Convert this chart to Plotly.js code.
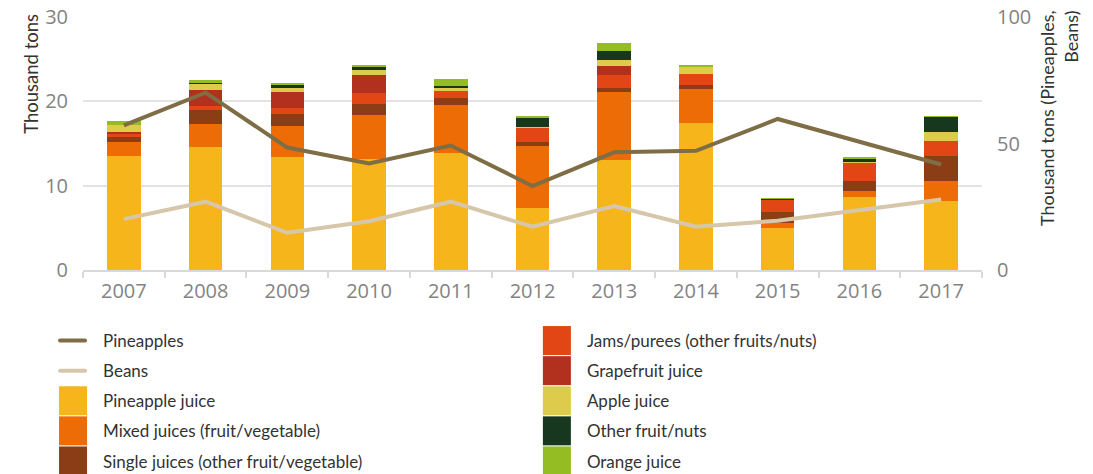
<!DOCTYPE html>
<html>
<head>
<meta charset="utf-8">
<script src="https://cdn.plot.ly/plotly-3.0.1.min.js"></script>
<style>html,body{margin:0;padding:0;background:#fff;}#chart{width:1093px;height:474px;}</style>
</head>
<body>
<div id="chart"></div>
<script>
var years = ['2007','2008','2009','2010','2011','2012','2013','2014','2015','2016','2017'];

var pineappleJuice = [13.55, 14.62, 13.44, 13.16, 13.87, 7.39, 13.04, 17.43, 4.98, 8.66, 8.18];
var mixedJuices    = [1.67, 2.69, 3.64, 5.22, 5.70, 7.35, 8.06, 4.03, 0.56, 0.71, 2.37];
var singleJuices   = [0.60, 1.66, 1.42, 1.30, 0.83, 0.47, 0.48, 0.48, 1.34, 1.18, 2.97];
var jamsPurees     = [0.25, 0.47, 0.71, 1.31, 0.83, 1.66, 1.54, 1.30, 1.42, 2.10, 1.78];
var grapefruitJuice= [0.30, 1.90, 1.90, 2.13, 0.05, 0.00, 1.07, 0.00, 0.03, 0.05, 0.00];
var appleJuice     = [0.83, 0.75, 0.48, 0.60, 0.35, 0.12, 0.71, 0.83, 0.00, 0.12, 1.06];
var otherFruitNuts = [0.00, 0.12, 0.36, 0.35, 0.24, 1.06, 1.07, 0.00, 0.12, 0.39, 1.78];
var orangeJuice    = [0.47, 0.33, 0.23, 0.24, 0.83, 0.24, 0.95, 0.24, 0.12, 0.24, 0.12];

var pineapples = [57.2, 70.1, 48.4, 42.1, 49.2, 33.2, 46.5, 47.1, 59.7, 50.8, 41.7];
var beans      = [20.1, 27.0, 14.7, 19.3, 27.0, 17.1, 25.3, 17.1, 19.5, 23.7, 27.9];

var traces = [];
traces.push({
  type: 'scatter', mode: 'lines', name: 'Pineapples', x: years, y: pineapples,
  yaxis: 'y2', line: {color: '#7E6D45', width: 4}, legend: 'legend', legendgroup: 'g1', hoverinfo: 'skip'
});
traces.push({
  type: 'scatter', mode: 'lines', name: 'Beans', x: years, y: beans,
  yaxis: 'y2', line: {color: '#D6C6AA', width: 4}, legend: 'legend', legendgroup: 'g2', hoverinfo: 'skip'
});

var barSeries = [
  {name: 'Pineapple juice', y: pineappleJuice, color: '#F6B51B', lg: 'legend'},
  {name: 'Mixed juices (fruit/vegetable)', y: mixedJuices, color: '#EE6C05', lg: 'legend'},
  {name: 'Single juices (other fruit/vegetable)', y: singleJuices, color: '#8B3E16', lg: 'legend'},
  {name: 'Jams/purees (other fruits/nuts)', y: jamsPurees, color: '#E34615', lg: 'legend2'},
  {name: 'Grapefruit juice', y: grapefruitJuice, color: '#B2301E', lg: 'legend2'},
  {name: 'Apple juice', y: appleJuice, color: '#DDCB4C', lg: 'legend2'},
  {name: 'Other fruit/nuts', y: otherFruitNuts, color: '#17381F', lg: 'legend2'},
  {name: 'Orange juice', y: orangeJuice, color: '#93BD22', lg: 'legend2'}
];

barSeries.forEach(function(s, i){
  traces.push({
    type: 'bar', name: s.name, x: years, y: s.y,
    marker: {color: s.color, line: {width: 0}},
    legend: s.lg, legendgroup: 'b' + i, hoverinfo: 'skip'
  });
});

var tickFont = {family: 'Open Sans, sans-serif', size: 20, color: '#838383'};
var legendFont = {family: 'Lato, sans-serif', size: 17, color: '#333'};

var layout = {
  width: 1093, height: 474,
  margin: {l: 83, r: 111, t: 17, b: 204},
  paper_bgcolor: '#fff', plot_bgcolor: '#fff',
  barmode: 'stack', bargap: 0.59,
  showlegend: true,
  legend: {
    orientation: 'v', xref: 'paper', yref: 'container',
    x: -0.0222, xanchor: 'left', y: 1 - 323 / 474, yanchor: 'top',
    traceorder: 'grouped', tracegroupgap: 5, font: legendFont,
    bgcolor: 'rgba(0,0,0,0)', itemclick: false, itemdoubleclick: false
  },
  legend2: {
    orientation: 'v', xref: 'paper', yref: 'container',
    x: 0.516, xanchor: 'left', y: 1 - 323 / 474, yanchor: 'top',
    traceorder: 'grouped', tracegroupgap: 5, font: legendFont,
    bgcolor: 'rgba(0,0,0,0)', itemclick: false, itemdoubleclick: false
  },
  xaxis: {
    type: 'category', tickson: 'boundaries', ticks: 'outside', ticklen: 6,
    tickcolor: '#D9D9D9', tickwidth: 2, showline: true, linecolor: '#D9D9D9', linewidth: 2,
    showgrid: false, tickfont: tickFont, ticklabelstandoff: 2, fixedrange: true
  },
  yaxis: {
    range: [0, 30], dtick: 10, showgrid: true, gridcolor: '#E3E3E3', gridwidth: 2,
    zeroline: false, showline: false, ticks: '', tickfont: tickFont,
    ticklabelstandoff: 14, fixedrange: true
  },
  yaxis2: {
    range: [0, 100], dtick: 50, overlaying: 'y', side: 'right', showgrid: false,
    zeroline: false, showline: false, ticks: '', tickfont: tickFont,
    ticklabelstandoff: 14, fixedrange: true
  },
  annotations: [
    {
      xref: 'paper', yref: 'paper', x: -0.058, y: 1.02, xanchor: 'center', yanchor: 'top',
      text: 'Thousand tons', textangle: -90, showarrow: false,
      font: {family: 'Lato, sans-serif', size: 18.5, color: '#333'}
    },
    {
      xref: 'paper', yref: 'paper', x: 1.0857, y: 1.03, xanchor: 'center', yanchor: 'top',
      text: 'Thousand tons (Pineapples,<br>Beans)', textangle: -90, align: 'right',
      showarrow: false,
      font: {family: 'Lato, sans-serif', size: 18, color: '#333'}
    }
  ]
};

var SMALL_BOX = 'M6,6H-6V-6H6Z';
function enlargeLegendKeys(){
  // enlarge legend keys to match the reference's square swatches
  document.querySelectorAll('g.legend .scrollbox, g.legend2 .scrollbox').forEach(function(el){
    el.removeAttribute('clip-path');
  });
  document.querySelectorAll('g.legendpoints path').forEach(function(p){
    var d = (p.getAttribute('d') || '').replace(/\s/g, '');
    if (d === SMALL_BOX) p.setAttribute('d', 'M4,14.5H-24V-14.5H4Z');
  });
  document.querySelectorAll('g.legendlines path.js-line').forEach(function(p){
    p.setAttribute('d', 'M-3,0h25');
    p.style.strokeLinecap = 'round';
  });
}

var gd = document.getElementById('chart');
Plotly.newPlot(gd, traces, layout, {displayModeBar: false, staticPlot: true}).then(function(){
  enlargeLegendKeys();
  gd.on('plotly_afterplot', enlargeLegendKeys);
  setTimeout(enlargeLegendKeys, 50);
});
</script>
</body>
</html>
